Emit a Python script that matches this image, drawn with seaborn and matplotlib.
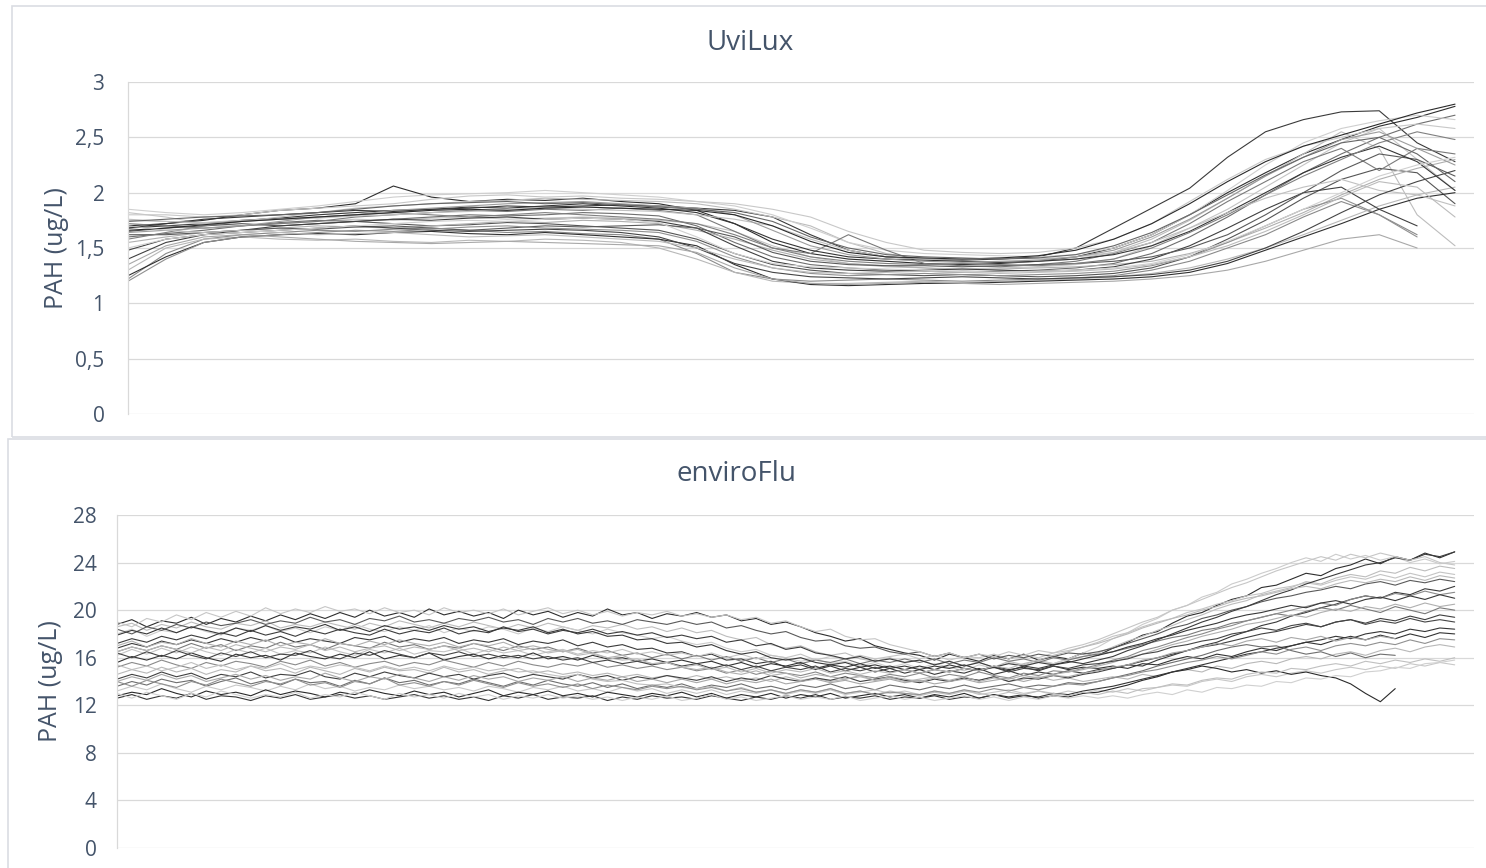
import pandas as pd
import matplotlib
matplotlib.use("Agg")
import matplotlib.pyplot as plt
from matplotlib.patches import Rectangle
import seaborn as sns

# ---- UviLux: one list per run, one value per sample step (ug/L) ----
uv_run01 = [1.68, 1.70, 1.72, 1.75, 1.77, 1.80, 1.82, 1.84, 1.85, 1.86, 1.88, 1.87, 1.88, 1.89, 1.88, 1.86, 1.84, 1.78,
            1.62, 1.48, 1.42, 1.40, 1.39, 1.40, 1.42, 1.50, 1.68, 1.86, 2.04, 2.32, 2.55, 2.66, 2.73, 2.74, 2.45, 2.28]
uv_run02 = [1.22, 1.45, 1.58, 1.62, 1.64, 1.66, 1.65, 1.67, 1.68, 1.66, 1.64, 1.65, 1.63, 1.62, 1.58, 1.45, 1.28, 1.22,
            1.20, 1.21, 1.22, 1.21, 1.20, 1.21, 1.22, 1.23, 1.25, 1.30, 1.38, 1.50, 1.62, 1.78, 1.92, 1.80, 1.62]
uv_run03 = [1.82, 1.78, 1.72, 1.70, 1.72, 1.74, 1.76, 1.75, 1.77, 1.78, 1.76, 1.77, 1.78, 1.77, 1.75, 1.72, 1.65, 1.52,
            1.42, 1.36, 1.33, 1.32, 1.31, 1.32, 1.33, 1.35, 1.40, 1.52, 1.68, 1.85, 2.05, 2.25, 2.45, 2.58, 2.30, 2.02]
uv_run04 = [1.70, 1.72, 1.75, 1.80, 1.84, 1.86, 1.90, 2.06, 1.96, 1.92, 1.94, 1.93, 1.95, 1.92, 1.90, 1.84, 1.72, 1.55,
            1.45, 1.40, 1.38, 1.36, 1.35, 1.36, 1.38, 1.42, 1.50, 1.62, 1.80, 2.00, 2.18, 2.35, 2.48, 2.60, 2.68, 2.78]
uv_run05 = [1.30, 1.50, 1.58, 1.60, 1.58, 1.57, 1.58, 1.56, 1.55, 1.57, 1.56, 1.58, 1.57, 1.55, 1.50, 1.40, 1.28, 1.20,
            1.18, 1.18, 1.19, 1.20, 1.19, 1.20, 1.21, 1.22, 1.24, 1.27, 1.32, 1.40, 1.50, 1.62, 1.75, 1.88, 1.98, 2.05]
uv_run06 = [1.60, 1.63, 1.66, 1.70, 1.73, 1.75, 1.74, 1.76, 1.78, 1.80, 1.79, 1.80, 1.82, 1.81, 1.79, 1.70, 1.55, 1.42,
            1.35, 1.32, 1.30, 1.29, 1.28, 1.29, 1.30, 1.32, 1.36, 1.45, 1.60, 1.78, 1.98, 2.18, 2.35, 2.50, 2.62, 2.70]
uv_run07 = [1.75, 1.74, 1.72, 1.74, 1.78, 1.82, 1.86, 1.88, 1.90, 1.92, 1.93, 1.95, 1.94, 1.93, 1.92, 1.90, 1.85, 1.78,
            1.70, 1.55, 1.45, 1.40, 1.38, 1.37, 1.38, 1.40, 1.46, 1.58, 1.75, 1.95, 2.15, 2.35, 2.55, 2.40, 1.80, 1.52]
uv_run08 = [1.65, 1.68, 1.70, 1.72, 1.70, 1.72, 1.74, 1.72, 1.70, 1.71, 1.73, 1.72, 1.70, 1.68, 1.66, 1.58, 1.45, 1.35,
            1.30, 1.27, 1.26, 1.25, 1.26, 1.25, 1.24, 1.25, 1.27, 1.32, 1.42, 1.58, 1.75, 1.95, 2.12, 2.22, 2.18, 1.90]
uv_run09 = [1.85, 1.82, 1.80, 1.82, 1.85, 1.88, 1.92, 1.96, 1.98, 1.99, 2.00, 2.02, 2.00, 1.98, 1.96, 1.92, 1.88, 1.80,
            1.68, 1.55, 1.48, 1.45, 1.44, 1.43, 1.42, 1.44, 1.50, 1.62, 1.80, 2.02, 2.25, 2.45, 2.58, 2.65, 2.70, 2.66]
uv_run10 = [1.25, 1.42, 1.55, 1.60, 1.62, 1.63, 1.62, 1.64, 1.65, 1.63, 1.62, 1.64, 1.62, 1.60, 1.58, 1.52, 1.35, 1.22,
            1.17, 1.16, 1.17, 1.18, 1.18, 1.19, 1.20, 1.21, 1.22, 1.24, 1.28, 1.36, 1.48, 1.60, 1.72, 1.85, 1.95, 2.00]
uv_run11 = [1.72, 1.70, 1.68, 1.70, 1.72, 1.74, 1.78, 1.80, 1.82, 1.84, 1.83, 1.85, 1.84, 1.86, 1.84, 1.80, 1.65, 1.50,
            1.45, 1.62, 1.48, 1.36, 1.34, 1.33, 1.35, 1.38, 1.45, 1.55, 1.72, 1.92, 2.10, 2.28, 2.40, 2.20, 2.40, 2.35]
uv_run12 = [1.55, 1.60, 1.64, 1.66, 1.68, 1.70, 1.69, 1.68, 1.70, 1.72, 1.74, 1.73, 1.75, 1.74, 1.72, 1.66, 1.58, 1.48,
            1.40, 1.36, 1.34, 1.32, 1.30, 1.31, 1.32, 1.33, 1.35, 1.38, 1.45, 1.55, 1.68, 1.82, 1.98, 2.12, 2.22, 2.30]
uv_run13 = [1.40, 1.55, 1.62, 1.66, 1.70, 1.72, 1.74, 1.76, 1.75, 1.77, 1.78, 1.76, 1.77, 1.76, 1.74, 1.68, 1.52, 1.38,
            1.32, 1.30, 1.29, 1.30, 1.31, 1.30, 1.29, 1.30, 1.33, 1.40, 1.52, 1.68, 1.85, 2.00, 2.05, 1.85, 1.70]
uv_run14 = [1.80, 1.80, 1.78, 1.80, 1.84, 1.86, 1.88, 1.90, 1.94, 1.97, 1.98, 1.96, 1.97, 1.95, 1.94, 1.92, 1.90, 1.85,
            1.78, 1.65, 1.55, 1.48, 1.46, 1.45, 1.46, 1.50, 1.58, 1.72, 1.92, 2.12, 2.30, 2.42, 2.50, 2.58, 2.62, 2.58]
uv_run15 = [1.62, 1.62, 1.64, 1.66, 1.68, 1.67, 1.69, 1.70, 1.68, 1.66, 1.68, 1.70, 1.69, 1.70, 1.71, 1.68, 1.60, 1.46,
            1.38, 1.35, 1.34, 1.34, 1.33, 1.34, 1.35, 1.36, 1.38, 1.42, 1.50, 1.62, 1.80, 2.00, 2.20, 2.35, 2.30, 2.15]
uv_run16 = [1.35, 1.52, 1.60, 1.62, 1.60, 1.58, 1.56, 1.55, 1.54, 1.55, 1.56, 1.55, 1.54, 1.53, 1.52, 1.46, 1.32, 1.22,
            1.18, 1.17, 1.18, 1.19, 1.18, 1.17, 1.18, 1.19, 1.20, 1.22, 1.25, 1.30, 1.38, 1.48, 1.58, 1.62, 1.50]
uv_run17 = [1.68, 1.72, 1.76, 1.78, 1.80, 1.82, 1.84, 1.83, 1.85, 1.87, 1.86, 1.88, 1.90, 1.88, 1.86, 1.82, 1.72, 1.58,
            1.48, 1.42, 1.40, 1.39, 1.38, 1.37, 1.38, 1.40, 1.44, 1.52, 1.65, 1.82, 2.00, 2.18, 2.32, 2.42, 2.28, 2.02]
uv_run18 = [1.58, 1.64, 1.70, 1.74, 1.76, 1.78, 1.80, 1.82, 1.80, 1.78, 1.80, 1.82, 1.80, 1.78, 1.76, 1.72, 1.62, 1.50,
            1.42, 1.38, 1.36, 1.35, 1.36, 1.35, 1.34, 1.36, 1.40, 1.50, 1.64, 1.80, 1.98, 2.15, 2.30, 2.45, 2.55, 2.48]
uv_run19 = [1.76, 1.74, 1.73, 1.75, 1.76, 1.77, 1.79, 1.80, 1.82, 1.83, 1.85, 1.86, 1.85, 1.84, 1.83, 1.80, 1.76, 1.70,
            1.58, 1.48, 1.42, 1.40, 1.40, 1.41, 1.40, 1.42, 1.46, 1.55, 1.68, 1.82, 1.95, 2.05, 2.12, 2.02, 1.98, 1.88]
uv_run20 = [1.48, 1.58, 1.62, 1.64, 1.66, 1.68, 1.70, 1.68, 1.66, 1.65, 1.66, 1.67, 1.66, 1.64, 1.60, 1.50, 1.36, 1.28,
            1.24, 1.23, 1.22, 1.23, 1.24, 1.23, 1.22, 1.23, 1.24, 1.26, 1.30, 1.38, 1.50, 1.65, 1.82, 1.98, 2.10, 2.20]
uv_run21 = [1.64, 1.66, 1.68, 1.70, 1.74, 1.78, 1.80, 1.84, 1.86, 1.88, 1.90, 1.91, 1.92, 1.90, 1.88, 1.86, 1.80, 1.66,
            1.52, 1.44, 1.40, 1.38, 1.37, 1.38, 1.39, 1.42, 1.48, 1.60, 1.76, 1.95, 2.15, 2.32, 2.48, 2.55, 2.40, 2.25]
uv_run22 = [1.20, 1.40, 1.55, 1.60, 1.62, 1.64, 1.66, 1.65, 1.67, 1.69, 1.70, 1.68, 1.67, 1.66, 1.64, 1.56, 1.42, 1.32,
            1.27, 1.25, 1.26, 1.27, 1.26, 1.25, 1.26, 1.27, 1.29, 1.34, 1.42, 1.55, 1.70, 1.85, 1.95, 1.80, 1.60]
uv_run23 = [1.66, 1.68, 1.71, 1.74, 1.76, 1.78, 1.80, 1.82, 1.84, 1.85, 1.84, 1.86, 1.87, 1.86, 1.85, 1.84, 1.80, 1.70,
            1.56, 1.46, 1.42, 1.41, 1.40, 1.41, 1.43, 1.48, 1.58, 1.72, 1.90, 2.10, 2.28, 2.42, 2.52, 2.62, 2.72, 2.80]
uv_run24 = [1.70, 1.66, 1.64, 1.66, 1.64, 1.62, 1.63, 1.64, 1.62, 1.60, 1.61, 1.62, 1.60, 1.58, 1.56, 1.50, 1.40, 1.32,
            1.28, 1.27, 1.28, 1.29, 1.28, 1.27, 1.28, 1.29, 1.31, 1.35, 1.42, 1.52, 1.65, 1.80, 1.96, 2.10, 2.05, 1.78]
uv_run25 = [1.74, 1.76, 1.78, 1.79, 1.80, 1.82, 1.85, 1.88, 1.90, 1.91, 1.92, 1.90, 1.91, 1.89, 1.87, 1.85, 1.82, 1.74,
            1.60, 1.50, 1.44, 1.42, 1.41, 1.40, 1.41, 1.44, 1.52, 1.64, 1.80, 1.98, 2.16, 2.32, 2.45, 2.50, 2.35, 2.10]
uv_run26 = [1.50, 1.58, 1.62, 1.64, 1.66, 1.68, 1.70, 1.72, 1.74, 1.75, 1.74, 1.76, 1.77, 1.76, 1.73, 1.60, 1.45, 1.36,
            1.33, 1.32, 1.31, 1.30, 1.29, 1.28, 1.29, 1.30, 1.32, 1.36, 1.44, 1.56, 1.70, 1.85, 2.00, 2.15, 2.25, 2.32]

uvilux_runs = [uv_run01, uv_run02, uv_run03, uv_run04, uv_run05, uv_run06, uv_run07, uv_run08, uv_run09,
               uv_run10, uv_run11, uv_run12, uv_run13, uv_run14, uv_run15, uv_run16, uv_run17, uv_run18,
               uv_run19, uv_run20, uv_run21, uv_run22, uv_run23, uv_run24, uv_run25, uv_run26]
uvilux_grays = ["#3a3a3a", "#8a8a8a", "#c4c4c4", "#2e2e2e", "#b8b8b8", "#6e6e6e", "#bdbdbd", "#555555",
                "#cfcfcf", "#303030", "#7a7a7a", "#b0b0b0", "#404040", "#c8c8c8", "#5a5a5a", "#a8a8a8",
                "#353535", "#808080", "#c0c0c0", "#454545", "#9c9c9c", "#909090", "#2a2a2a", "#bcbcbc",
                "#666666", "#d0d0d0"]
uvilux_ticks = [0, 0.5, 1, 1.5, 2, 2.5, 3]
uvilux_ticklabels = ["0", "0,5", "1", "1,5", "2", "2,5", "3"]

# ---- enviroFlu: noisier fluorometer, one list per run (ug/L) ----
# each run: plateau, drop, low, rise
ef_run01 = [18.8, 19.2, 18.6, 19.1, 18.9, 19.4, 18.8, 19.3, 19.0, 19.5, 19.1, 19.6, 19.2, 19.7, 19.3, 19.8, 19.4, 20.0,
            19.5, 19.8, 19.4, 20.1, 19.6, 19.9, 19.5, 19.8, 19.3, 20.0, 19.6, 19.9, 19.4, 19.8, 19.5, 20.1, 19.6, 19.8,
            19.3, 19.7, 19.5,
            19.8, 19.4, 19.6, 19.1, 19.3, 18.8, 19.0, 18.6, 18.1, 17.8, 17.4, 17.6, 17.0, 16.7, 16.4,
            16.2, 15.8, 16.3, 16.0, 15.7, 16.2, 15.9, 16.3, 15.8, 16.1, 15.9, 16.4, 16.2,
            16.8, 17.3, 17.9, 18.2, 18.9, 19.5, 19.8, 20.4, 20.9, 21.2, 21.9, 22.1, 22.6, 23.1, 22.9, 23.5, 23.8, 24.3,
            23.9, 24.5, 24.2, 24.8, 24.4, 24.9]
ef_run02 = [18.6, 18.9, 18.3, 18.8, 18.5, 19.0, 18.6, 18.4, 18.9, 18.7, 19.1, 18.5, 18.8, 18.6, 19.0, 18.7, 18.4, 18.9,
            18.6, 19.1, 18.8, 18.5, 18.9, 18.6, 19.0, 18.7, 18.4, 18.8, 18.5, 18.9, 18.6, 18.3, 18.7, 18.5, 18.8, 18.4,
            18.6, 18.2, 18.5,
            18.1, 18.3, 17.8, 17.5, 17.7, 17.1, 16.8, 17.0, 16.5, 16.2, 16.4, 15.9, 15.7, 16.0, 15.6,
            15.8, 15.4, 15.7, 15.3, 15.6, 15.2, 15.7, 15.4, 15.8, 15.5, 15.9, 16.1, 16.4,
            16.9, 17.4, 17.8, 18.3, 18.7, 19.2, 19.6, 20.1, 20.5, 20.8, 21.3, 21.6, 21.9, 22.4, 22.2, 22.7, 23.0, 22.8,
            23.3, 23.1, 23.6, 23.3, 23.7, 23.5]
ef_run03 = [18.0, 18.4, 17.8, 18.3, 18.1, 18.6, 18.2, 17.9, 18.5, 18.3, 18.7, 18.2, 18.5, 18.1, 18.6, 18.3, 18.8, 18.4,
            18.2, 18.6, 18.3, 18.7, 18.1, 18.5, 18.2, 18.6, 18.4, 18.0, 18.5, 18.2, 18.6, 18.3, 18.0, 18.4, 18.1, 17.9,
            17.6, 17.8, 17.4,
            17.1, 17.3, 16.8, 16.5, 16.7, 16.2, 16.0, 15.7, 15.9, 15.5, 15.7, 15.3, 15.6, 15.2, 15.5,
            15.1, 15.5, 15.2, 14.9, 15.4, 15.1, 15.6, 15.3, 15.7, 15.5, 15.9, 16.4, 16.9,
            17.6, 18.1, 18.8, 19.3, 20.0, 20.4, 21.1, 21.5, 22.2, 22.6, 23.1, 23.5, 24.0, 24.4, 24.1, 24.7, 24.3, 24.6,
            24.2, 24.5, 24.0, 24.3, 23.9, 24.1]
ef_run04 = [16.8, 17.2, 16.9, 17.4, 17.1, 17.5, 17.2, 17.6, 17.3, 17.7, 17.4, 17.8, 17.3, 17.6, 17.4, 17.2, 17.7, 17.5,
            17.8, 17.3, 17.6, 17.4, 17.7, 17.2, 17.5, 17.3, 17.6, 17.1, 17.4, 17.2, 17.5, 17.0, 17.3, 16.9, 17.1, 16.7,
            16.8, 16.4, 16.5,
            16.1, 16.3, 15.8, 15.9, 15.5, 15.7, 15.2, 15.4, 15.0, 15.3, 14.9, 15.2, 14.8, 15.1, 14.7,
            15.0, 14.6, 14.9, 14.7, 15.1, 14.6, 14.9, 14.5, 14.8, 14.6, 14.9, 14.7, 15.0,
            15.1, 15.4, 15.3, 15.8, 16.2, 16.6, 17.0, 17.3, 17.8, 18.2, 18.7, 19.0, 19.5, 19.8, 20.2, 20.5, 20.9, 21.2,
            21.0, 21.5, 21.3, 21.8, 21.6, 22.0]
ef_run05 = [16.5, 16.9, 16.6, 17.0, 16.7, 17.2, 16.8, 17.1, 16.6, 17.0, 16.8, 17.3, 16.9, 17.1, 16.7, 17.2, 17.0, 16.8,
            17.3, 16.9, 17.1, 16.7, 17.0, 16.8, 17.2, 16.9, 16.6, 17.0, 16.7, 16.9, 16.5, 16.8, 16.4, 16.6, 16.2, 16.4,
            16.0, 16.3, 15.9,
            16.2, 15.8, 16.1, 15.7, 16.0, 15.6, 15.9, 15.5, 15.8, 15.6, 15.9, 15.5, 15.8, 15.6, 15.9,
            15.6, 15.9, 15.5, 15.8, 15.6, 16.0, 15.7, 15.9, 15.6, 16.0, 15.8, 16.1, 16.3,
            16.5, 16.8, 17.1, 17.4, 17.7, 17.9, 18.3, 18.5, 18.9, 19.1, 19.4, 19.7, 19.5, 19.9, 20.2, 20.0, 20.4, 20.1,
            19.8, 20.3, 20.0, 19.7, 20.2, 20.0]
ef_run06 = [16.2, 16.7, 16.3, 16.8, 16.4, 16.9, 16.5, 16.2, 16.7, 16.4, 16.8, 16.3, 16.6, 16.4, 16.9, 16.5, 16.2, 16.7,
            16.4, 16.8, 16.3, 16.6, 16.5, 16.8, 16.3, 16.7, 16.4, 16.6, 16.2, 16.5, 16.7, 16.3, 16.6, 16.4, 16.7, 16.3,
            16.5, 16.2, 16.4,
            16.1, 16.4, 16.0, 16.3, 15.9, 16.2, 16.0, 16.3, 15.8, 16.1, 15.9, 16.2, 15.9, 16.1, 16.3,
            15.9, 16.2, 15.8, 16.1, 16.0, 16.3, 15.9, 16.2, 16.0, 16.4, 16.6, 16.9, 17.3,
            17.8, 18.1, 18.6, 19.0, 19.3, 19.8, 20.1, 20.5, 20.8, 21.2, 21.4, 21.8, 22.0, 22.3, 22.1, 22.5, 22.8, 22.6,
            23.0, 22.7, 23.1, 22.8, 23.2, 23.0]
ef_run07 = [15.6, 16.1, 15.8, 16.2, 15.9, 16.4, 16.0, 15.7, 16.3, 16.0, 16.2, 15.8, 16.4, 16.1, 15.9, 16.3, 16.0, 16.5,
            15.9, 16.2, 16.0, 16.4, 15.8, 16.1, 16.3, 15.9, 16.2, 16.0, 16.4, 15.9, 16.1, 15.8, 16.2, 15.9, 16.0, 15.7,
            15.9, 15.6, 15.8,
            15.5, 15.7, 15.3, 15.6, 15.2, 15.5, 15.3, 15.6, 15.1, 15.4, 15.2, 15.5, 15.1, 15.3, 15.0,
            15.3, 15.0, 15.4, 15.1, 14.9, 15.3, 15.0, 15.2, 14.9, 15.3, 15.0, 15.2, 15.1,
            15.3, 15.1, 15.5, 15.4, 15.8, 16.1, 15.9, 16.3, 16.1, 16.5, 16.8, 16.6, 17.0, 17.3, 17.1, 17.5, 17.8, 17.5,
            17.9, 17.6, 18.0, 17.7, 18.1, 18.0]
ef_run08 = [15.2, 15.6, 15.3, 15.8, 15.4, 15.1, 15.6, 15.3, 15.7, 15.5, 15.2, 15.7, 15.4, 15.8, 15.3, 15.6, 15.2, 15.5,
            15.7, 15.3, 15.6, 15.4, 15.8, 15.5, 15.2, 15.6, 15.3, 15.7, 15.4, 15.2, 15.5, 15.3, 15.6, 15.2, 15.4, 15.1,
            15.3, 15.0, 15.2,
            14.9, 15.1, 14.7, 15.0, 14.6, 14.9, 14.7, 14.5, 14.8, 14.4, 14.7, 14.5, 14.3, 14.6, 14.4,
            14.7, 14.3, 14.6, 14.4, 14.8, 14.5, 14.3, 14.7, 14.5, 14.9, 14.8, 15.1, 15.4,
            15.8, 16.1, 16.6, 16.9, 17.3, 17.7, 18.0, 18.4, 18.7, 19.1, 19.4, 19.7, 20.0, 20.3, 20.6, 20.4, 20.9, 21.2,
            21.0, 21.4, 21.2, 21.6, 21.3, 21.5]
ef_run09 = [14.6, 15.0, 14.7, 15.2, 14.8, 15.1, 14.6, 15.0, 14.8, 15.3, 14.9, 15.1, 14.7, 15.2, 14.9, 14.6, 15.1, 14.8,
            15.2, 14.9, 15.0, 14.7, 15.2, 14.8, 15.0, 14.6, 14.9, 15.1, 14.7, 14.9, 14.6, 14.8, 14.5, 14.7, 14.4, 14.6,
            14.3, 14.5, 14.2,
            14.5, 14.2, 14.4, 14.1, 14.3, 14.0, 14.4, 14.1, 14.3, 14.0, 14.2, 14.4, 14.1, 14.3, 14.0,
            14.2, 14.4, 14.0, 14.3, 14.1, 14.4, 14.0, 14.2, 14.4, 14.1, 14.3, 14.0, 14.2,
            14.4, 14.2, 14.6, 14.4, 14.8, 15.0, 14.8, 15.3, 15.1, 15.5, 15.7, 15.5, 15.9, 16.1, 15.9, 16.3, 16.5, 16.2,
            16.6, 16.8, 16.5, 16.9, 17.1, 16.9]
ef_run10 = [14.2, 14.6, 14.3, 14.8, 14.4, 14.7, 14.2, 14.6, 14.4, 14.8, 14.3, 14.6, 14.5, 14.9, 14.4, 14.2, 14.7, 14.4,
            14.8, 14.5, 14.3, 14.7, 14.4, 14.6, 14.2, 14.5, 14.7, 14.3, 14.6, 14.4, 14.2, 14.6, 14.3, 14.5, 14.1, 14.4,
            14.2, 14.5, 14.3,
            14.1, 14.4, 14.0, 14.3, 14.1, 14.5, 14.2, 14.0, 14.3, 14.1, 14.4, 14.0, 14.2, 14.4, 14.1,
            13.9, 14.2, 14.0, 14.3, 14.1, 14.4, 14.0, 14.3, 14.2, 14.5, 14.3, 14.6, 14.8,
            15.1, 15.4, 15.7, 16.0, 16.3, 16.6, 16.9, 17.1, 17.4, 17.7, 18.0, 18.2, 18.5, 18.8, 18.6, 19.0, 19.2, 18.9,
            19.3, 19.1, 19.5, 19.2, 19.6, 19.4]
ef_run11 = [13.6, 14.0, 13.7, 14.2, 13.9, 14.1, 13.6, 14.0, 14.3, 13.8, 14.1, 13.7, 14.2, 13.9, 14.0, 13.6, 14.1, 13.8,
            14.3, 13.9, 14.1, 13.7, 14.0, 13.8, 14.2, 13.9, 13.6, 14.0, 13.7, 14.1, 13.8, 13.6, 13.9, 13.5, 13.8, 13.4,
            13.7, 13.5, 13.8,
            13.4, 13.7, 13.5, 13.8, 13.4, 13.6, 13.3, 13.7, 13.5, 13.8, 13.4, 13.6, 13.3, 13.7, 13.5,
            13.3, 13.6, 13.4, 13.7, 13.4, 13.6, 13.8, 13.5, 13.7, 13.6, 13.9, 13.8, 14.0,
            14.3, 14.6, 14.9, 15.3, 15.6, 15.9, 16.2, 16.6, 16.9, 17.1, 16.9, 17.0, 16.6, 16.3, 16.5, 16.1, 16.4, 16.0,
            16.3, 16.2]
ef_run12 = [13.2, 13.6, 13.3, 13.8, 13.4, 13.1, 13.6, 13.3, 13.7, 13.5, 13.2, 13.6, 13.3, 13.8, 13.4, 13.6, 13.2, 13.5,
            13.3, 13.7, 13.4, 13.6, 13.3, 13.5, 13.2, 13.6, 13.4, 13.1, 13.5, 13.3, 13.6, 13.2, 13.4, 13.1, 13.5, 13.2,
            13.4, 13.0, 13.3,
            13.0, 13.3, 12.9, 13.2, 13.0, 13.3, 12.9, 13.2, 13.0, 13.3, 12.9, 13.1, 13.3, 13.0, 13.2,
            12.9, 13.2, 13.0, 13.3, 12.9, 13.1, 13.3, 13.0, 13.2, 12.9, 13.2, 13.0, 13.3,
            13.1, 13.4, 13.2, 13.5, 13.7, 13.6, 14.0, 14.2, 14.0, 14.4, 14.6, 14.4, 14.7, 14.9, 14.7, 15.0, 15.2, 15.0,
            15.3, 15.1, 15.5, 15.3, 15.6, 15.4]
ef_run13 = [12.8, 13.1, 12.9, 13.4, 13.0, 12.7, 13.2, 12.9, 13.1, 12.8, 13.3, 12.9, 13.2, 13.0, 12.7, 13.1, 12.9, 13.3,
            13.0, 12.8, 13.2, 12.9, 13.1, 12.7, 13.0, 13.3, 12.8, 13.1, 12.9, 13.2, 12.8, 13.0, 12.7, 13.1, 12.9, 12.7,
            13.0, 12.8, 13.1,
            12.7, 13.0, 12.6, 12.9, 12.7, 13.0, 12.6, 12.9, 12.7, 13.0, 12.6, 12.8, 13.0, 12.7, 12.9,
            12.6, 12.9, 12.7, 13.0, 12.6, 12.9, 12.7, 12.9, 12.6, 12.8, 12.7, 13.0, 13.1,
            13.4, 13.7, 14.1, 14.4, 14.8, 15.0, 15.3, 15.1, 14.8, 15.0, 14.7, 14.9, 14.6, 14.8, 14.5, 14.3, 13.8, 13.0,
            12.3, 13.4]
ef_run14 = [12.6, 12.9, 12.5, 12.8, 12.6, 13.0, 12.5, 12.8, 12.7, 12.4, 12.8, 12.6, 12.9, 12.5, 12.7, 12.9, 12.6, 12.8,
            12.5, 12.7, 12.9, 12.6, 12.8, 12.5, 12.7, 12.4, 12.8, 12.6, 12.9, 12.5, 12.7, 12.6, 12.8, 12.4, 12.7, 12.5,
            12.8, 12.6, 12.7,
            12.5, 12.8, 12.6, 12.4, 12.7, 12.5, 12.8, 12.6, 12.9, 12.5, 12.7, 12.6, 12.8, 12.5, 12.7,
            12.6, 12.8, 12.5, 12.7, 12.6, 12.9, 12.6, 12.8, 12.7, 13.0, 12.9, 13.2, 13.4,
            13.6, 13.9, 14.2, 14.5, 14.8, 15.1, 15.4, 15.7, 16.0, 16.3, 16.5, 16.8, 17.0, 17.3, 17.5, 17.8, 17.6, 18.0,
            18.2, 18.0, 18.4, 18.2, 18.5, 18.4]
ef_run15 = [18.4, 18.0, 18.6, 18.3, 18.8, 18.5, 19.0, 18.7, 18.9, 19.2, 18.8, 19.1, 18.9, 19.4, 19.0, 19.2, 18.8, 19.3,
            19.1, 19.5, 19.0, 19.2, 18.9, 19.3, 19.1, 19.4, 19.0, 19.2, 18.8, 19.3, 19.0, 19.3, 18.9, 19.1, 18.8, 19.2,
            19.0, 18.8, 19.1,
            18.8, 19.0, 18.5, 18.7, 18.3, 18.0, 18.2, 17.7, 17.4, 17.5, 17.0, 16.8, 16.9, 16.5, 16.3,
            16.5, 16.1, 16.4, 16.0, 16.3, 15.9, 16.2, 16.0, 16.3, 16.1, 16.4, 16.3, 16.5,
            16.8, 17.2, 17.6, 18.0, 18.5, 18.8, 19.3, 19.6, 20.0, 20.3, 20.7, 21.0, 21.2, 21.5, 21.7, 22.0, 21.8, 22.2,
            22.4, 22.1, 22.5, 22.3, 22.6, 22.4]
ef_run16 = [17.2, 17.6, 17.3, 17.8, 17.5, 17.9, 17.6, 18.1, 17.8, 18.3, 17.9, 18.2, 17.8, 18.3, 18.0, 18.4, 18.1, 17.9,
            18.4, 18.0, 18.3, 18.1, 18.5, 18.0, 18.3, 18.1, 18.6, 18.2, 18.4, 18.0, 18.3, 18.1, 18.4, 18.0, 18.2, 17.9,
            18.1, 17.7, 17.9,
            17.6, 17.8, 17.3, 17.5, 17.0, 17.2, 16.7, 16.9, 16.4, 16.2, 15.9, 16.1, 15.7, 15.9, 15.6,
            15.8, 15.4, 15.7, 15.3, 15.6, 15.2, 15.5, 15.3, 15.6, 15.4, 15.7, 15.5, 15.8,
            16.1, 16.6, 17.0, 17.5, 18.0, 18.5, 19.0, 19.4, 19.9, 20.3, 20.8, 21.3, 21.7, 22.2, 22.6, 23.0, 23.4, 23.8,
            24.0, 24.4, 24.2, 24.7, 24.5, 24.9]
ef_run17 = [17.0, 17.4, 16.9, 17.3, 17.1, 17.6, 17.2, 16.9, 17.4, 17.1, 17.5, 17.0, 17.3, 17.1, 17.6, 17.2, 17.0, 17.4,
            17.1, 17.5, 17.2, 17.0, 17.3, 16.9, 17.2, 17.0, 17.3, 16.8, 17.0, 16.7, 16.5, 16.7, 16.3, 16.0, 16.2, 15.7,
            15.5, 15.6, 15.2,
            15.0, 15.2, 14.8, 14.6, 14.9, 14.5, 14.7, 14.3, 14.6, 14.4, 14.2, 14.5, 14.1, 14.4, 14.2,
            14.0, 14.3, 14.1, 14.4, 14.0, 14.3, 14.2, 14.5, 14.3, 14.6, 14.8, 15.0, 15.3,
            15.6, 16.0, 16.3, 16.7, 17.1, 17.4, 17.8, 18.1, 18.4, 18.8, 19.0, 19.3, 19.6, 19.4, 19.8, 20.1, 19.9, 20.3,
            20.1, 20.5, 20.2, 20.6, 20.3, 20.5]
ef_run18 = [16.4, 16.0, 16.5, 16.1, 16.6, 16.2, 15.9, 16.4, 16.1, 16.5, 16.0, 16.3, 16.2, 16.6, 16.1, 15.9, 16.4, 16.2,
            16.6, 16.3, 16.0, 16.4, 16.2, 16.5, 16.1, 16.3, 16.0, 16.2, 15.9, 16.1, 15.8, 16.0, 15.6, 15.8, 15.5, 15.7,
            15.4, 15.6, 15.3,
            15.5, 15.1, 15.4, 15.0, 15.3, 14.9, 15.2, 15.0, 15.3, 14.8, 15.1, 14.9, 15.2, 14.8, 15.0,
            14.7, 15.0, 14.8, 15.1, 14.9, 15.2, 14.8, 15.1, 15.0, 15.3, 15.1, 15.4, 15.5,
            15.7, 15.9, 16.3, 16.5, 16.9, 17.1, 17.4, 17.6, 18.0, 18.2, 18.5, 18.3, 18.7, 18.9, 18.6, 19.0, 19.2, 18.8,
            19.1, 18.9, 19.3, 19.0, 19.2, 19.0]
ef_run19 = [15.4, 15.0, 15.3, 14.9, 15.2, 15.6, 15.1, 15.4, 15.0, 15.3, 15.1, 15.5, 15.0, 15.3, 15.1, 15.4, 15.2, 14.9,
            15.3, 15.0, 15.2, 14.9, 15.3, 15.0, 15.2, 14.9, 15.1, 14.8, 14.9, 14.6, 14.4, 14.6, 14.2, 14.0, 14.1, 13.8,
            13.7, 13.8, 13.5,
            13.4, 13.6, 13.2, 13.5, 13.1, 13.3, 13.0, 13.3, 13.1, 13.4, 13.0, 13.2, 12.9, 13.2, 13.0,
            12.8, 13.1, 12.9, 13.2, 13.0, 12.8, 13.1, 12.9, 13.2, 13.0, 12.8, 13.1, 12.9,
            13.2, 13.0, 13.4, 13.5, 13.8, 13.7, 14.1, 14.3, 14.2, 14.6, 14.8, 14.7, 15.1, 15.0, 15.3, 15.5, 15.3, 15.7,
            15.5, 15.8, 15.6, 15.9, 15.7, 16.0]
ef_run20 = [14.0, 13.6, 14.1, 13.8, 13.5, 14.0, 13.7, 14.2, 13.9, 13.6, 14.0, 13.8, 14.2, 13.7, 13.9, 13.5, 14.0, 13.8,
            14.3, 13.7, 13.9, 13.6, 14.0, 13.7, 14.1, 13.8, 13.5, 13.9, 13.6, 13.8, 13.5, 13.8, 13.4, 13.7, 13.5, 13.3,
            13.6, 13.4, 13.6,
            13.3, 13.5, 13.2, 13.4, 13.1, 13.3, 13.0, 13.3, 13.1, 13.4, 13.0, 13.2, 12.9, 13.1, 13.0,
            12.9, 13.2, 13.0, 13.3, 13.1, 13.4, 13.2, 13.5, 13.3, 13.6, 13.8, 13.7, 14.0,
            14.3, 14.5, 14.8, 15.0, 15.3, 15.6, 15.8, 16.1, 15.9, 16.2, 16.5, 16.3, 16.7, 16.9, 16.6, 17.0, 17.2, 17.0,
            17.3, 17.1, 17.5, 17.2, 17.6, 17.5]
ef_run21 = [13.0, 12.6, 13.1, 12.8, 12.5, 13.0, 12.7, 13.2, 12.9, 12.6, 12.9, 12.7, 13.1, 12.6, 12.9, 12.7, 13.1, 12.8,
            12.5, 13.0, 12.7, 12.9, 12.6, 13.0, 12.7, 12.9, 12.5, 12.8, 12.6, 12.9, 12.6, 12.8, 12.5, 12.7, 12.4, 12.7,
            12.5, 12.8, 12.4,
            12.6, 12.9, 12.5, 12.7, 12.4, 12.6, 12.8, 12.5, 12.7, 12.5, 12.8, 12.4, 12.6, 12.8, 12.5,
            12.7, 12.4, 12.6, 12.8, 12.5, 12.7, 12.4, 12.7, 12.5, 12.8, 12.6, 12.8, 12.6,
            12.8, 12.6, 12.9, 13.1, 12.9, 13.3, 13.1, 13.5, 13.4, 13.7, 13.6, 14.0, 13.9, 14.3, 14.2, 14.5, 14.4, 14.8,
            14.9, 15.2, 15.1, 15.5, 15.6, 15.8]
ef_run22 = [19.0, 18.6, 19.3, 19.0, 19.6, 19.2, 19.8, 19.4, 19.9, 19.5, 20.2, 19.7, 20.1, 19.8, 20.3, 19.9, 20.1, 19.7,
            20.2, 19.8, 20.0, 19.6, 20.2, 19.8, 20.0, 19.7, 20.1, 19.6, 19.9, 20.2, 19.7, 20.0, 19.6, 19.9, 19.5, 19.8,
            19.6, 19.9, 19.5,
            19.7, 19.4, 19.6, 19.2, 19.4, 18.9, 19.1, 18.6, 18.2, 18.4, 17.8, 17.5, 17.6, 17.1, 16.8,
            16.5, 16.1, 16.4, 16.0, 16.3, 16.1, 16.5, 16.2, 16.6, 16.4, 16.8, 17.1, 17.5,
            18.0, 18.5, 19.0, 19.4, 20.0, 20.4, 20.9, 21.4, 21.9, 22.3, 22.8, 23.3, 23.7, 24.1, 24.5, 24.2, 24.7, 24.4,
            24.8, 24.5, 24.2, 24.5, 24.0, 23.8]
ef_run23 = [17.9, 18.3, 18.0, 18.5, 18.1, 18.6, 18.3, 18.0, 18.5, 18.2, 18.7, 18.3, 18.6, 18.4, 18.8, 18.3, 18.6, 18.2,
            18.7, 18.4, 18.6, 18.3, 18.7, 18.4, 18.6, 18.2, 18.5, 18.3, 18.6, 18.1, 18.4, 18.0, 18.2, 17.8, 17.9, 17.5,
            17.6, 17.2, 17.3,
            16.9, 17.1, 16.6, 16.3, 16.5, 16.0, 15.8, 16.0, 15.6, 15.4, 15.6, 15.2, 15.4, 15.1, 15.3,
            15.0, 15.3, 15.1, 15.4, 15.0, 15.2, 14.9, 15.3, 15.1, 15.4, 15.6, 15.9, 16.2,
            16.5, 16.9, 17.2, 17.6, 17.9, 18.3, 18.6, 18.9, 19.3, 19.6, 19.8, 20.1, 20.4, 20.2, 20.6, 20.8, 20.5, 20.9,
            21.1, 20.8, 21.2, 20.9, 21.3, 21.0]
ef_run24 = [16.5, 16.9, 16.6, 17.0, 16.7, 16.4, 16.9, 16.6, 17.1, 16.8, 16.5, 16.9, 16.7, 17.1, 16.6, 16.9, 16.5, 16.8,
            17.0, 16.6, 16.9, 16.7, 17.0, 16.6, 16.8, 16.5, 16.9, 16.6, 16.8, 16.4, 16.6, 16.2, 16.4, 16.0, 15.8, 15.9,
            15.5, 15.6, 15.2,
            15.4, 15.0, 15.2, 14.8, 15.1, 14.7, 15.0, 14.8, 15.1, 14.7, 14.9, 14.6, 14.9, 14.7, 15.0,
            14.7, 15.0, 14.8, 15.1, 14.9, 15.3, 15.1, 15.5, 15.8, 16.2, 16.5, 16.9, 17.2,
            17.6, 18.0, 18.5, 18.9, 19.3, 19.6, 20.0, 20.3, 20.7, 21.0, 21.2, 21.5, 21.8, 22.0, 21.8, 22.2, 22.5, 22.3,
            22.6, 22.4, 22.8, 22.5, 22.9, 22.7]
ef_run25 = [14.0, 14.4, 14.1, 14.6, 14.2, 14.5, 14.0, 14.3, 14.6, 14.2, 14.5, 14.1, 14.4, 14.2, 14.7, 14.3, 14.0, 14.4,
            14.2, 14.6, 14.3, 14.0, 14.4, 14.1, 14.5, 14.2, 14.4, 14.0, 14.3, 14.1, 14.4, 14.0, 14.3, 14.1, 14.4, 14.0,
            14.2, 13.9, 14.2,
            13.9, 14.2, 13.8, 14.1, 13.9, 14.2, 13.8, 14.0, 14.2, 13.9, 14.1, 13.8, 14.0, 14.2, 13.9,
            14.1, 13.8, 14.0, 14.2, 13.9, 14.1, 14.3, 14.0, 14.3, 14.5, 14.4, 14.7, 14.9,
            15.2, 15.4, 15.8, 16.0, 16.4, 16.6, 16.9, 17.2, 17.0, 17.4, 17.6, 17.3, 17.7, 17.5, 17.8, 17.4, 17.7, 17.5,
            17.8, 17.6]

enviroflu_runs = [ef_run01, ef_run02, ef_run03, ef_run04, ef_run05, ef_run06, ef_run07, ef_run08, ef_run09,
                  ef_run10, ef_run11, ef_run12, ef_run13, ef_run14, ef_run15, ef_run16, ef_run17, ef_run18,
                  ef_run19, ef_run20, ef_run21, ef_run22, ef_run23, ef_run24, ef_run25]
enviroflu_grays = ["#2e2e2e", "#bdbdbd", "#cccccc", "#3a3a3a", "#7a7a7a", "#c4c4c4", "#333333", "#8a8a8a",
                   "#b8b8b8", "#404040", "#6e6e6e", "#c8c8c8", "#2a2a2a", "#353535", "#5a5a5a", "#3c3c3c",
                   "#b0b0b0", "#454545", "#c0c0c0", "#909090", "#d0d0d0", "#c6c6c6", "#383838", "#bababa",
                   "#a8a8a8"]
enviroflu_ticks = [0, 4, 8, 12, 16, 20, 24, 28]
enviroflu_ticklabels = ["0", "4", "8", "12", "16", "20", "24", "28"]

TEXT_COLOR = "#44546a"
GRID_COLOR = "#d9d9d9"
W, H = 1486, 868


def to_long(runs):
    # seaborn wants long form: one row per (run, sample)
    frames = []
    for k, values in enumerate(runs):
        frames.append(pd.DataFrame({"sample": range(len(values)), "pah": values, "run": k}))
    return pd.concat(frames, ignore_index=True)


def draw_panel(ax, runs, grays, ticks, ticklabels, xmax, tick_pad):
    df = to_long(runs)
    palette = dict(zip(range(len(runs)), grays))
    sns.lineplot(data=df, x="sample", y="pah", hue="run", palette=palette,
                 estimator=None, sort=False, legend=False, linewidth=0.8, ax=ax)

    ax.set_xlim(0, xmax)
    ax.set_ylim(ticks[0], ticks[-1])
    ax.set_yticks(ticks)
    ax.set_yticklabels(ticklabels)
    ax.set_xticks([])
    ax.set_xlabel("")
    ax.set_ylabel("PAH (ug/L)", fontsize=18, color=TEXT_COLOR)
    ax.tick_params(axis="y", length=0, pad=tick_pad, labelsize=15, labelcolor=TEXT_COLOR)

    # Excel-like grid: horizontal lines only, light left axis line
    ax.grid(axis="y", color=GRID_COLOR, linewidth=0.9)
    ax.set_axisbelow(True)
    for side in ["top", "right", "bottom"]:
        ax.spines[side].set_visible(False)
    ax.spines["left"].set_color(GRID_COLOR)
    ax.spines["left"].set_linewidth(0.9)


def add_frame(fig, x0, y0, x1, y1):
    fig.add_artist(Rectangle((x0 / W, 1 - y1 / H), (x1 - x0) / W, (y1 - y0) / H,
                             transform=fig.transFigure, fill=False,
                             edgecolor="#dadde3", linewidth=1.2))


def main():
    sns.set_theme(style="white")
    plt.rcParams["font.family"] = ["Open Sans", "DejaVu Sans"]

    fig = plt.figure(figsize=(W / 100, H / 100), dpi=100)
    fig.patch.set_facecolor("white")

    # panel frames, the way the two Excel chart objects sit on the sheet
    add_frame(fig, 12, 6, 1500, 437)
    add_frame(fig, 8, 439, 1500, 880)

    ax_top = fig.add_axes([128 / W, 1 - 414 / H, 1346 / W, 332 / H])
    draw_panel(ax_top, uvilux_runs, uvilux_grays, uvilux_ticks, uvilux_ticklabels, 35.5, 17)
    ax_top.yaxis.set_label_coords(-0.044, 0.5)

    ax_bot = fig.add_axes([117 / W, 1 - 848 / H, 1357 / W, 333 / H])
    draw_panel(ax_bot, enviroflu_runs, enviroflu_grays, enviroflu_ticks, enviroflu_ticklabels, 91.3, 14.5)
    ax_bot.yaxis.set_label_coords(-0.040, 0.5)

    fig.text(750 / W, 1 - 43 / H, "UviLux", ha="center", va="center", fontsize=20, color=TEXT_COLOR)
    fig.text(737 / W, 1 - 474 / H, "enviroFlu", ha="center", va="center", fontsize=20, color=TEXT_COLOR)

    fig.savefig("out.png", dpi=100, facecolor="white")


if __name__ == "__main__":
    main()
